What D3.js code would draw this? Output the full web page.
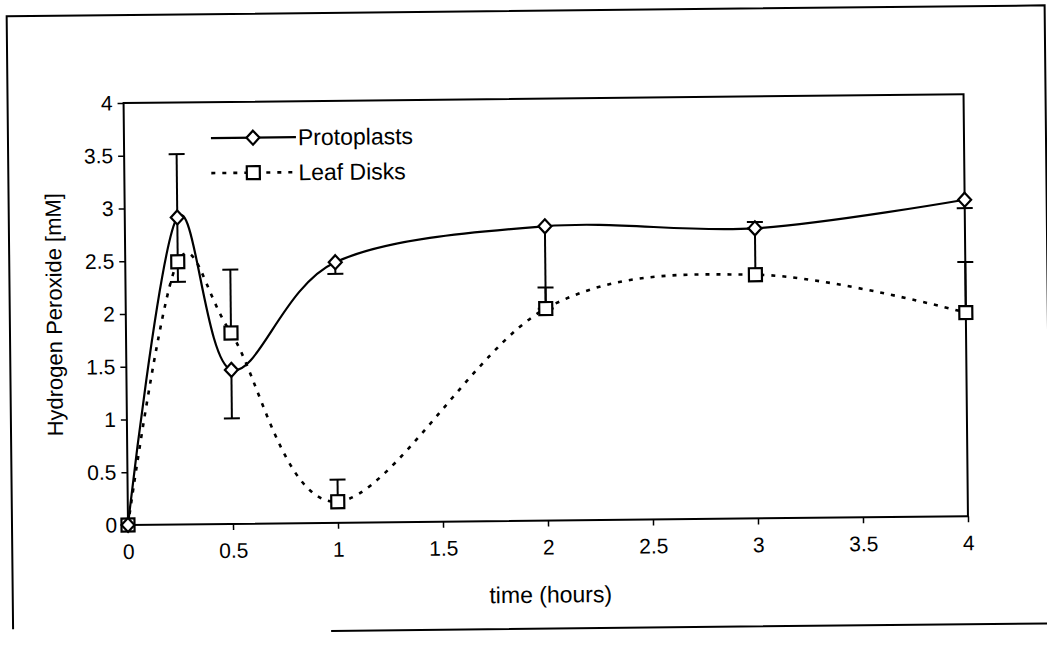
<!DOCTYPE html>
<html>
<head>
<meta charset="utf-8">
<script src="https://cdn.jsdelivr.net/npm/d3@7"></script>
<style>
  body { margin: 0; background: #fff; }
  svg { display: block; }
  text { font-family: "Liberation Sans", Arial, sans-serif; fill: #000; }
</style>
</head>
<body>
<div id="chart"></div>
<script>
// values
const hours = [0, 0.25, 0.5, 1, 2, 3, 4];
const protoplasts = [0, 2.91, 1.46, 2.47, 2.79, 2.75, 3.0];
const protoplastsErrUp = [0, 0.6, 0, 0, 0, 0.06, 0];
const protoplastsErrDown = [0, 0.61, 0.46, 0.11, 0.78, 0, 0.08];
const leafDisks = [0, 2.49, 1.81, 0.2, 2.01, 2.31, 1.93];
const leafDisksErrUp = [0, 0, 0.6, 0.21, 0.2, 0.44, 0.48];
const leafDisksErrDown = [0, 0, 0, 0, 0, 0, 0];
const xTicks = [0, 0.5, 1, 1.5, 2, 2.5, 3, 3.5, 4];
const yTicks = [0, 0.5, 1, 1.5, 2, 2.5, 3, 3.5, 4];
const seriesNames = ['Protoplasts', 'Leaf Disks'];

const width = 1047;
const height = 653;
const marginLeft = 128;
const marginRight = 79;   // plot right edge at 968
const marginTop = 103;
const marginBottom = 128; // plot bottom at 525

const svg = d3.select('#chart')
  .append('svg')
  .attr('width', width)
  .attr('height', height)
  .attr('viewBox', `0 0 ${width} ${height}`);

// the scan is slightly tilted
const g = svg.append('g')
  .attr('transform', `rotate(-0.6, ${marginLeft}, ${height - marginBottom})`);

const x = d3.scaleLinear()
  .domain([0, 4])
  .range([marginLeft, width - marginRight]);

const y = d3.scaleLinear()
  .domain([0, 4])
  .range([height - marginBottom, marginTop]);

// outer frame (bottom edge faded on the left in the scan)
g.append('path')
  .attr('fill', 'none')
  .attr('stroke', '#000')
  .attr('stroke-width', 2)
  .attr('d', 'M12,628 L12,15 L1050,15 L1050,633 M330,633 L1050,633');

// plot box
g.append('rect')
  .attr('x', marginLeft)
  .attr('y', marginTop)
  .attr('width', width - marginLeft - marginRight)
  .attr('height', height - marginTop - marginBottom)
  .attr('fill', 'none')
  .attr('stroke', '#000')
  .attr('stroke-width', 2);

g.append('g')
  .attr('transform', `translate(${marginLeft},0)`)
  .call(d3.axisLeft(y).tickValues(yTicks).tickSize(6).tickPadding(5).tickFormat(d => String(d)))
  .call(a => a.select('.domain').remove())
  .call(a => a.selectAll('.tick line').attr('stroke', '#000').attr('stroke-width', 1.5))
  .call(a => a.selectAll('.tick text').attr('font-size', 21).attr('font-family', '"Liberation Sans", Arial, sans-serif'));

g.append('g')
  .attr('transform', `translate(0,${height - marginBottom})`)
  .call(d3.axisBottom(x).tickValues(xTicks).tickSize(6).tickPadding(13).tickFormat(d => String(d)))
  .call(a => a.select('.domain').remove())
  .call(a => a.selectAll('.tick line').attr('stroke', '#000').attr('stroke-width', 1.5))
  .call(a => a.selectAll('.tick text').attr('font-size', 21).attr('font-family', '"Liberation Sans", Arial, sans-serif'));

g.append('text')
  .attr('x', 550)
  .attr('y', 607)
  .attr('text-anchor', 'middle')
  .attr('font-size', 23)
  .text('time (hours)');

g.append('text')
  .attr('transform', `translate(64,${(marginTop + height - marginBottom) / 2}) rotate(-90)`)
  .attr('text-anchor', 'middle')
  .attr('font-size', 22)
  .text('Hydrogen Peroxide [mM]');

const curve = d3.curveCatmullRom.alpha(0);
const line = d3.line()
  .x((d, i) => x(hours[i]))
  .y(d => y(d))
  .curve(curve);

// smoothed series lines
g.append('path')
  .attr('fill', 'none')
  .attr('stroke', '#000')
  .attr('stroke-width', 2.2)
  .attr('d', line(protoplasts));

g.append('path')
  .attr('fill', 'none')
  .attr('stroke', '#000')
  .attr('stroke-width', 2.6)
  .attr('stroke-dasharray', '4,7')
  .attr('d', line(leafDisks));

// error bars
function errorBars(values, up, down) {
  const cap = 8;
  values.forEach((v, i) => {
    const cx = x(hours[i]);
    if (up[i] > 0) {
      g.append('line').attr('x1', cx).attr('x2', cx).attr('y1', y(v)).attr('y2', y(v + up[i]))
        .attr('stroke', '#000').attr('stroke-width', 2);
      g.append('line').attr('x1', cx - cap).attr('x2', cx + cap).attr('y1', y(v + up[i])).attr('y2', y(v + up[i]))
        .attr('stroke', '#000').attr('stroke-width', 2);
    }
    if (down[i] > 0) {
      g.append('line').attr('x1', cx).attr('x2', cx).attr('y1', y(v)).attr('y2', y(v - down[i]))
        .attr('stroke', '#000').attr('stroke-width', 2);
      g.append('line').attr('x1', cx - cap).attr('x2', cx + cap).attr('y1', y(v - down[i])).attr('y2', y(v - down[i]))
        .attr('stroke', '#000').attr('stroke-width', 2);
    }
  });
}
errorBars(protoplasts, protoplastsErrUp, protoplastsErrDown);
errorBars(leafDisks, leafDisksErrUp, leafDisksErrDown);

const diamond = 'M0,-7 L6.5,0 L0,7 L-6.5,0 Z';
const square = 'M-6.5,-6.5 L6.5,-6.5 L6.5,6.5 L-6.5,6.5 Z';

g.append('g')
  .selectAll('path')
  .data(leafDisks)
  .enter().append('path')
  .attr('transform', (d, i) => `translate(${x(hours[i])},${y(d)})`)
  .attr('d', square)
  .attr('fill', '#fff')
  .attr('stroke', '#000')
  .attr('stroke-width', 2.2);

g.append('g')
  .selectAll('path')
  .data(protoplasts)
  .enter().append('path')
  .attr('transform', (d, i) => `translate(${x(hours[i])},${y(d)})`)
  .attr('d', diamond)
  .attr('fill', '#fff')
  .attr('stroke', '#000')
  .attr('stroke-width', 2.2);

// legend
const legend = g.append('g');
const legendRows = [
  { name: seriesNames[0], y: 139, dash: null, shape: diamond, width: 2.2 },
  { name: seriesNames[1], y: 174, dash: '4,7', shape: square, width: 2.6 }
];
legendRows.forEach(r => {
  legend.append('line')
    .attr('x1', 215).attr('x2', 300).attr('y1', r.y).attr('y2', r.y)
    .attr('stroke', '#000').attr('stroke-width', r.width)
    .attr('stroke-dasharray', r.dash);
  legend.append('path')
    .attr('transform', `translate(257,${r.y})`)
    .attr('d', r.shape)
    .attr('fill', '#fff').attr('stroke', '#000').attr('stroke-width', 2.2);
  legend.append('text')
    .attr('x', 302).attr('y', r.y + 8)
    .attr('font-size', 23)
    .text(r.name);
});
</script>
</body>
</html>
